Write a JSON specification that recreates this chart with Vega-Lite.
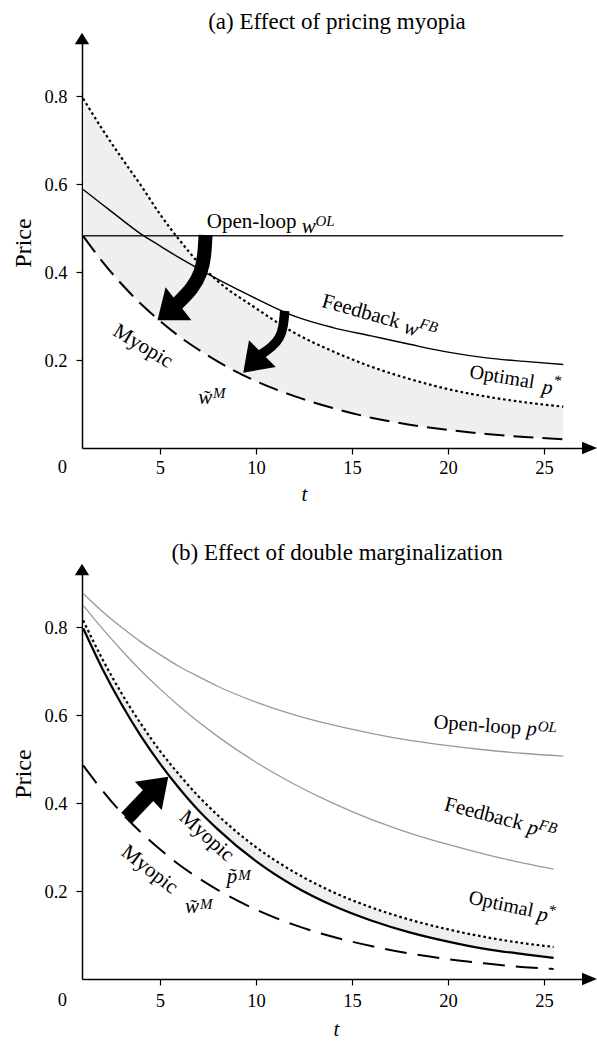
{
  "$schema": "https://vega.github.io/schema/vega-lite/v6.json",
  "background": "white",
  "padding": {"left": 11, "top": 10, "right": 0, "bottom": 0},
  "spacing": 37,
  "config": {
    "font": "Liberation Serif",
    "view": {"stroke": null},
    "axis": {
      "grid": false, "domainColor": "black", "domainWidth": 1.5, "tickColor": "black", "tickWidth": 1.2, "tickSize": 6,
      "labelColor": "black", "labelFont": "Liberation Serif", "labelFontSize": 18.5,
      "titleColor": "black", "titleFont": "Liberation Serif", "titleFontWeight": "normal"
    },
    "title": {"font": "Liberation Serif", "fontSize": 23, "fontWeight": "normal", "color": "black", "anchor": "middle", "baseline": "alphabetic", "offset": -1},
    "text": {"font": "Liberation Serif", "color": "black", "align": "left", "baseline": "alphabetic", "fontSize": 21}
  },
  "datasets": {
    "a_ol": [{"t": 1, "p": 0.483}, {"t": 26, "p": 0.483}],
    "a_fb": [
      {"t": 1, "p": 0.588}, {"t": 2, "p": 0.554}, {"t": 3, "p": 0.52}, {"t": 4, "p": 0.487}, {"t": 5, "p": 0.46},
      {"t": 6, "p": 0.433}, {"t": 7, "p": 0.408}, {"t": 8, "p": 0.384}, {"t": 10, "p": 0.34}, {"t": 12, "p": 0.3},
      {"t": 14, "p": 0.274}, {"t": 16, "p": 0.255}, {"t": 18, "p": 0.236}, {"t": 20, "p": 0.218}, {"t": 22, "p": 0.205},
      {"t": 24, "p": 0.197}, {"t": 26, "p": 0.19}
    ],
    "a_opt": [
      {"t": 1, "p": 0.795}, {"t": 2, "p": 0.725}, {"t": 3, "p": 0.66}, {"t": 4, "p": 0.598}, {"t": 5, "p": 0.532},
      {"t": 6, "p": 0.474}, {"t": 7, "p": 0.422}, {"t": 8, "p": 0.38}, {"t": 10, "p": 0.318}, {"t": 12, "p": 0.262},
      {"t": 14, "p": 0.22}, {"t": 16, "p": 0.185}, {"t": 18, "p": 0.157}, {"t": 20, "p": 0.134}, {"t": 22, "p": 0.117},
      {"t": 24, "p": 0.104}, {"t": 26, "p": 0.094}
    ],
    "a_my": [
      {"t": 1, "p": 0.482}, {"t": 2, "p": 0.424}, {"t": 3, "p": 0.373}, {"t": 4, "p": 0.328}, {"t": 5, "p": 0.289},
      {"t": 6, "p": 0.254}, {"t": 7, "p": 0.224}, {"t": 8, "p": 0.197}, {"t": 10, "p": 0.152}, {"t": 12, "p": 0.118},
      {"t": 14, "p": 0.091}, {"t": 16, "p": 0.069}, {"t": 18, "p": 0.053}, {"t": 20, "p": 0.041}, {"t": 22, "p": 0.032},
      {"t": 24, "p": 0.025}, {"t": 26, "p": 0.02}
    ],
    "a_band": [
      {"t": 1, "p": 0.795, "p2": 0.482}, {"t": 2, "p": 0.725, "p2": 0.424}, {"t": 3, "p": 0.66, "p2": 0.373},
      {"t": 4, "p": 0.598, "p2": 0.328}, {"t": 5, "p": 0.532, "p2": 0.289}, {"t": 6, "p": 0.474, "p2": 0.254},
      {"t": 7, "p": 0.422, "p2": 0.224}, {"t": 8, "p": 0.38, "p2": 0.197}, {"t": 10, "p": 0.318, "p2": 0.152},
      {"t": 12, "p": 0.262, "p2": 0.118}, {"t": 14, "p": 0.22, "p2": 0.091}, {"t": 16, "p": 0.185, "p2": 0.069},
      {"t": 18, "p": 0.157, "p2": 0.053}, {"t": 20, "p": 0.134, "p2": 0.041}, {"t": 22, "p": 0.117, "p2": 0.032},
      {"t": 24, "p": 0.104, "p2": 0.025}, {"t": 26, "p": 0.094, "p2": 0.02}
    ],
    "b_ol": [
      {"t": 1, "p": 0.877}, {"t": 2, "p": 0.836}, {"t": 3, "p": 0.8}, {"t": 4, "p": 0.767}, {"t": 5, "p": 0.738},
      {"t": 6, "p": 0.711}, {"t": 7, "p": 0.688}, {"t": 8, "p": 0.666}, {"t": 10, "p": 0.63}, {"t": 12, "p": 0.601},
      {"t": 14, "p": 0.578}, {"t": 16, "p": 0.559}, {"t": 18, "p": 0.543}, {"t": 20, "p": 0.531}, {"t": 22, "p": 0.521},
      {"t": 24, "p": 0.513}, {"t": 26, "p": 0.507}
    ],
    "b_fb": [
      {"t": 1, "p": 0.85}, {"t": 2, "p": 0.797}, {"t": 3, "p": 0.748}, {"t": 4, "p": 0.702}, {"t": 5, "p": 0.66},
      {"t": 6, "p": 0.621}, {"t": 7, "p": 0.585}, {"t": 8, "p": 0.552}, {"t": 10, "p": 0.493}, {"t": 12, "p": 0.443},
      {"t": 14, "p": 0.4}, {"t": 16, "p": 0.363}, {"t": 18, "p": 0.332}, {"t": 20, "p": 0.306}, {"t": 22, "p": 0.283},
      {"t": 24, "p": 0.263}, {"t": 25.5, "p": 0.25}
    ],
    "b_opt": [
      {"t": 1, "p": 0.816}, {"t": 2, "p": 0.728}, {"t": 3, "p": 0.65}, {"t": 4, "p": 0.581}, {"t": 5, "p": 0.519},
      {"t": 6, "p": 0.465}, {"t": 7, "p": 0.416}, {"t": 8, "p": 0.373}, {"t": 10, "p": 0.3}, {"t": 12, "p": 0.243},
      {"t": 14, "p": 0.198}, {"t": 16, "p": 0.163}, {"t": 18, "p": 0.135}, {"t": 20, "p": 0.113}, {"t": 22, "p": 0.095},
      {"t": 24, "p": 0.081}, {"t": 25.5, "p": 0.073}
    ],
    "b_myp": [
      {"t": 1, "p": 0.798}, {"t": 2, "p": 0.706}, {"t": 3, "p": 0.625}, {"t": 4, "p": 0.553}, {"t": 5, "p": 0.49},
      {"t": 6, "p": 0.434}, {"t": 7, "p": 0.384}, {"t": 8, "p": 0.341}, {"t": 10, "p": 0.268}, {"t": 12, "p": 0.211},
      {"t": 14, "p": 0.167}, {"t": 16, "p": 0.133}, {"t": 18, "p": 0.106}, {"t": 20, "p": 0.085}, {"t": 22, "p": 0.068},
      {"t": 24, "p": 0.056}, {"t": 25.5, "p": 0.048}
    ],
    "b_myw": [
      {"t": 1, "p": 0.486}, {"t": 2, "p": 0.429}, {"t": 3, "p": 0.378}, {"t": 4, "p": 0.334}, {"t": 5, "p": 0.295},
      {"t": 6, "p": 0.26}, {"t": 7, "p": 0.23}, {"t": 8, "p": 0.203}, {"t": 10, "p": 0.158}, {"t": 12, "p": 0.123},
      {"t": 14, "p": 0.096}, {"t": 16, "p": 0.075}, {"t": 18, "p": 0.058}, {"t": 20, "p": 0.045}, {"t": 22, "p": 0.035},
      {"t": 24, "p": 0.027}, {"t": 25.5, "p": 0.023}
    ],
    "b_band": [
      {"t": 1, "p": 0.816, "p2": 0.798}, {"t": 2, "p": 0.728, "p2": 0.706}, {"t": 3, "p": 0.65, "p2": 0.625},
      {"t": 4, "p": 0.581, "p2": 0.553}, {"t": 5, "p": 0.519, "p2": 0.49}, {"t": 6, "p": 0.465, "p2": 0.434},
      {"t": 7, "p": 0.416, "p2": 0.384}, {"t": 8, "p": 0.373, "p2": 0.341}, {"t": 10, "p": 0.3, "p2": 0.268},
      {"t": 12, "p": 0.243, "p2": 0.211}, {"t": 14, "p": 0.198, "p2": 0.167}, {"t": 16, "p": 0.163, "p2": 0.133},
      {"t": 18, "p": 0.135, "p2": 0.106}, {"t": 20, "p": 0.113, "p2": 0.085}, {"t": 22, "p": 0.095, "p2": 0.068},
      {"t": 24, "p": 0.081, "p2": 0.056}, {"t": 25.5, "p": 0.073, "p2": 0.048}
    ],
    "a_sh1": [{"i": 0, "t": 7.372, "p": 0.4846}, {"i": 1, "t": 7.32, "p": 0.4368}, {"i": 2, "t": 7.138, "p": 0.3981}, {"i": 3, "t": 6.721, "p": 0.364}, {"i": 4, "t": 5.836, "p": 0.3253}],
    "a_sh2": [{"i": 0, "t": 11.497, "p": 0.3117}, {"i": 1, "t": 11.435, "p": 0.2775}, {"i": 2, "t": 11.253, "p": 0.2502}, {"i": 3, "t": 10.836, "p": 0.2298}, {"i": 4, "t": 10.263, "p": 0.2127}],
    "b_sh": [{"i": 0, "t": 3.268, "p": 0.3663}, {"i": 1, "t": 4.482, "p": 0.422}],
    "a_hd1": [{"t": 5.419, "p": 0.3093}],
    "a_hd2": [{"t": 9.836, "p": 0.1929}],
    "b_hd": [{"t": 4.914, "p": 0.4384}],
    "ax_x": [{"t": 27.37, "p": 0}],
    "ax_y": [{"t": 0.94, "p": 0.9316}],
    "zero": [{"t": 0, "p": 0, "s": "0"}],
    "a_lab": [
      {"g": "ol_r", "t": 7.435, "p": 0.5012, "s": "Open-loop"},
      {"g": "i0", "t": 12.383, "p": 0.4884, "s": "w"},
      {"g": "s0", "t": 13.1, "p": 0.505, "s": "OL"},
      {"g": "fb_r", "t": 13.372, "p": 0.3215, "s": "Feedback"},
      {"g": "fb_i", "t": 17.643, "p": 0.2623, "s": "w"},
      {"g": "fb_s", "t": 18.471, "p": 0.2734, "s": "FB"},
      {"g": "op_r", "t": 21.081, "p": 0.1599, "s": "Optimal"},
      {"g": "op_i", "t": 24.857, "p": 0.1253, "s": "p"},
      {"g": "op_s", "t": 25.482, "p": 0.144, "s": "*"},
      {"g": "my_r", "t": 2.487, "p": 0.258, "s": "Myopic"},
      {"g": "i0", "t": 6.997, "p": 0.1001, "s": "w\u0303"},
      {"g": "s0", "t": 7.763, "p": 0.1137, "s": "M"}
    ],
    "b_lab": [
      {"g": "ol_r", "t": 19.237, "p": 0.5703, "s": "Open-loop"},
      {"g": "ol_i", "t": 24.065, "p": 0.5551, "s": "p"},
      {"g": "ol_s", "t": 24.664, "p": 0.5642, "s": "OL"},
      {"g": "fb_r", "t": 19.758, "p": 0.3845, "s": "Feedback"},
      {"g": "fb_i", "t": 24.07, "p": 0.3319, "s": "p"},
      {"g": "fb_s", "t": 24.69, "p": 0.3412, "s": "FB"},
      {"g": "op_r", "t": 21.029, "p": 0.1722, "s": "Optimal"},
      {"g": "op_i", "t": 24.602, "p": 0.1342, "s": "p"},
      {"g": "op_s", "t": 25.195, "p": 0.1474, "s": "*"},
      {"g": "my1", "t": 5.956, "p": 0.3647, "s": "Myopic"},
      {"g": "my2", "t": 2.919, "p": 0.2837, "s": "Myopic"},
      {"g": "i0", "t": 8.477, "p": 0.2184, "s": "p\u0303"},
      {"g": "s0", "t": 9.081, "p": 0.2252, "s": "M"},
      {"g": "i0", "t": 6.305, "p": 0.1501, "s": "w\u0303"},
      {"g": "s0", "t": 7.086, "p": 0.1592, "s": "M"}
    ]
  },
  "vconcat": [
    {
      "title": "(a) Effect of pricing myopia",
      "width": 510,
      "height": 411,
      "encoding": {
        "x": {"field": "t", "type": "quantitative", "scale": {"domain": [0.94, 27.5], "nice": false, "zero": false},
          "axis": {"values": [5, 10, 15, 20, 25], "labelPadding": 4, "labelFlush": false, "title": "t", "titleFontStyle": "italic", "titleFontSize": 21, "titleX": 222, "titleY": 52, "titleBaseline": "alphabetic", "titleAlign": "center"}},
        "y": {"field": "p", "type": "quantitative", "scale": {"domain": [0, 0.935], "nice": false, "zero": false},
          "axis": {"values": [0.2, 0.4, 0.6, 0.8], "labelPadding": 9, "title": "Price", "titleFontSize": 24, "titleX": -52, "titleBaseline": "alphabetic", "titleAlign": "center"}}
      },
      "layer": [
        {"data": {"name": "a_band"}, "mark": {"type": "area", "color": "#efefef", "interpolate": "monotone"}, "encoding": {"y2": {"field": "p2"}}},
        {"data": {"name": "a_ol"}, "mark": {"type": "line", "color": "#222222", "strokeWidth": 1.4}, "encoding": {}},
        {"data": {"name": "a_fb"}, "mark": {"type": "line", "color": "black", "strokeWidth": 1.4, "interpolate": "monotone"}, "encoding": {}},
        {"data": {"name": "a_opt"}, "mark": {"type": "line", "color": "black", "strokeWidth": 2.2, "strokeDash": [2.6, 2.8], "interpolate": "monotone"}, "encoding": {}},
        {"data": {"name": "a_my"}, "mark": {"type": "line", "color": "black", "strokeWidth": 2, "strokeDash": [20, 9], "interpolate": "monotone"}, "encoding": {}},
        {"data": {"name": "a_sh1"}, "mark": {"type": "line", "color": "black", "strokeWidth": 14, "strokeCap": "butt", "interpolate": "basis"}, "encoding": {"order": {"field": "i", "type": "quantitative"}}},
        {"data": {"name": "a_sh2"}, "mark": {"type": "line", "color": "black", "strokeWidth": 9.5, "strokeCap": "butt", "interpolate": "basis"}, "encoding": {"order": {"field": "i", "type": "quantitative"}}},
        {"data": {"name": "a_hd1"}, "mark": {"type": "point", "shape": "M0.639,0L-0.639,-1L-0.639,1Z", "size": 1747, "angle": 141.8, "filled": true, "color": "black", "opacity": 1, "strokeWidth": 0}},
        {"data": {"name": "a_hd2"}, "mark": {"type": "point", "shape": "M0.714,0L-0.714,-1L-0.714,1Z", "size": 1429, "angle": 135, "filled": true, "color": "black", "opacity": 1, "strokeWidth": 0}},
        {"data": {"name": "ax_x"}, "mark": {"type": "point", "shape": "M1.22,0L-1.22,-1L-1.22,1Z", "size": 151, "angle": 0, "filled": true, "color": "black", "opacity": 1, "strokeWidth": 0}},
        {"data": {"name": "ax_y"}, "mark": {"type": "point", "shape": "M0.81,0L-0.81,-1L-0.81,1Z", "size": 204, "angle": -90, "filled": true, "color": "black", "opacity": 1, "strokeWidth": 0}},
        {"data": {"name": "zero"}, "mark": {"type": "text", "align": "center", "baseline": "top", "dy": 10, "dx": -1.5, "fontSize": 18.5}, "encoding": {"text": {"field": "s"}}},
        {"data": {"name": "a_lab"}, "transform": [{"filter": "datum.g == 'ol_r'"}], "mark": {"type": "text"}, "encoding": {"text": {"field": "s"}}},
        {"data": {"name": "a_lab"}, "transform": [{"filter": "datum.g == 'i0'"}], "mark": {"type": "text", "fontStyle": "italic"}, "encoding": {"text": {"field": "s"}}},
        {"data": {"name": "a_lab"}, "transform": [{"filter": "datum.g == 's0'"}], "mark": {"type": "text", "fontStyle": "italic", "fontSize": 15}, "encoding": {"text": {"field": "s"}}},
        {"data": {"name": "a_lab"}, "transform": [{"filter": "datum.g == 'fb_r'"}], "mark": {"type": "text", "angle": 15.6}, "encoding": {"text": {"field": "s"}}},
        {"data": {"name": "a_lab"}, "transform": [{"filter": "datum.g == 'fb_i'"}], "mark": {"type": "text", "angle": 15.6, "fontStyle": "italic"}, "encoding": {"text": {"field": "s"}}},
        {"data": {"name": "a_lab"}, "transform": [{"filter": "datum.g == 'fb_s'"}], "mark": {"type": "text", "angle": 15.6, "fontStyle": "italic", "fontSize": 15}, "encoding": {"text": {"field": "s"}}},
        {"data": {"name": "a_lab"}, "transform": [{"filter": "datum.g == 'op_r'"}], "mark": {"type": "text", "angle": 9.5, "fontSize": 20}, "encoding": {"text": {"field": "s"}}},
        {"data": {"name": "a_lab"}, "transform": [{"filter": "datum.g == 'op_i'"}], "mark": {"type": "text", "angle": 9.5, "fontStyle": "italic"}, "encoding": {"text": {"field": "s"}}},
        {"data": {"name": "a_lab"}, "transform": [{"filter": "datum.g == 'op_s'"}], "mark": {"type": "text", "angle": 9.5, "fontSize": 15}, "encoding": {"text": {"field": "s"}}},
        {"data": {"name": "a_lab"}, "transform": [{"filter": "datum.g == 'my_r'"}], "mark": {"type": "text", "angle": 31}, "encoding": {"text": {"field": "s"}}}
      ]
    },
    {
      "title": "(b) Effect of double marginalization",
      "width": 510,
      "height": 411,
      "encoding": {
        "x": {"field": "t", "type": "quantitative", "scale": {"domain": [0.94, 27.5], "nice": false, "zero": false},
          "axis": {"values": [5, 10, 15, 20, 25], "labelPadding": 6, "labelFlush": false, "title": "t", "titleFontStyle": "italic", "titleFontSize": 21, "titleX": 254, "titleY": 56, "titleBaseline": "alphabetic", "titleAlign": "center"}},
        "y": {"field": "p", "type": "quantitative", "scale": {"domain": [0, 0.935], "nice": false, "zero": false},
          "axis": {"values": [0.2, 0.4, 0.6, 0.8], "labelPadding": 9, "title": "Price", "titleFontSize": 24, "titleX": -52, "titleBaseline": "alphabetic", "titleAlign": "center"}}
      },
      "layer": [
        {"data": {"name": "b_band"}, "mark": {"type": "area", "color": "#efefef", "interpolate": "monotone"}, "encoding": {"y2": {"field": "p2"}}},
        {"data": {"name": "b_ol"}, "mark": {"type": "line", "color": "#999999", "strokeWidth": 1.3, "interpolate": "monotone"}, "encoding": {}},
        {"data": {"name": "b_fb"}, "mark": {"type": "line", "color": "#999999", "strokeWidth": 1.3, "interpolate": "monotone"}, "encoding": {}},
        {"data": {"name": "b_opt"}, "mark": {"type": "line", "color": "black", "strokeWidth": 2.2, "strokeDash": [2.6, 2.8], "interpolate": "monotone"}, "encoding": {}},
        {"data": {"name": "b_myp"}, "mark": {"type": "line", "color": "black", "strokeWidth": 2.2, "interpolate": "monotone"}, "encoding": {}},
        {"data": {"name": "b_myw"}, "mark": {"type": "line", "color": "black", "strokeWidth": 2, "strokeDash": [22, 11], "interpolate": "monotone"}, "encoding": {}},
        {"data": {"name": "b_sh"}, "mark": {"type": "line", "color": "black", "strokeWidth": 15, "strokeCap": "butt"}, "encoding": {"order": {"field": "i", "type": "quantitative"}}},
        {"data": {"name": "b_hd"}, "mark": {"type": "point", "shape": "M0.712,0L-0.712,-1L-0.712,1Z", "size": 1513, "angle": -43.7, "filled": true, "color": "black", "opacity": 1, "strokeWidth": 0}},
        {"data": {"name": "ax_x"}, "mark": {"type": "point", "shape": "M1.22,0L-1.22,-1L-1.22,1Z", "size": 151, "angle": 0, "filled": true, "color": "black", "opacity": 1, "strokeWidth": 0}},
        {"data": {"name": "ax_y"}, "mark": {"type": "point", "shape": "M0.81,0L-0.81,-1L-0.81,1Z", "size": 204, "angle": -90, "filled": true, "color": "black", "opacity": 1, "strokeWidth": 0}},
        {"data": {"name": "zero"}, "mark": {"type": "text", "align": "center", "baseline": "top", "dy": 12, "dx": -1.5, "fontSize": 18.5}, "encoding": {"text": {"field": "s"}}},
        {"data": {"name": "b_lab"}, "transform": [{"filter": "datum.g == 'ol_r'"}], "mark": {"type": "text", "angle": 4, "fontSize": 20.5}, "encoding": {"text": {"field": "s"}}},
        {"data": {"name": "b_lab"}, "transform": [{"filter": "datum.g == 'ol_i'"}], "mark": {"type": "text", "angle": 4, "fontStyle": "italic"}, "encoding": {"text": {"field": "s"}}},
        {"data": {"name": "b_lab"}, "transform": [{"filter": "datum.g == 'ol_s'"}], "mark": {"type": "text", "angle": 4, "fontStyle": "italic", "fontSize": 15}, "encoding": {"text": {"field": "s"}}},
        {"data": {"name": "b_lab"}, "transform": [{"filter": "datum.g == 'fb_r'"}], "mark": {"type": "text", "angle": 14.3}, "encoding": {"text": {"field": "s"}}},
        {"data": {"name": "b_lab"}, "transform": [{"filter": "datum.g == 'fb_i'"}], "mark": {"type": "text", "angle": 14.3, "fontStyle": "italic"}, "encoding": {"text": {"field": "s"}}},
        {"data": {"name": "b_lab"}, "transform": [{"filter": "datum.g == 'fb_s'"}], "mark": {"type": "text", "angle": 14.3, "fontStyle": "italic", "fontSize": 15}, "encoding": {"text": {"field": "s"}}},
        {"data": {"name": "b_lab"}, "transform": [{"filter": "datum.g == 'op_r'"}], "mark": {"type": "text", "angle": 12, "fontSize": 20}, "encoding": {"text": {"field": "s"}}},
        {"data": {"name": "b_lab"}, "transform": [{"filter": "datum.g == 'op_i'"}], "mark": {"type": "text", "angle": 12, "fontStyle": "italic"}, "encoding": {"text": {"field": "s"}}},
        {"data": {"name": "b_lab"}, "transform": [{"filter": "datum.g == 'op_s'"}], "mark": {"type": "text", "angle": 12, "fontSize": 15}, "encoding": {"text": {"field": "s"}}},
        {"data": {"name": "b_lab"}, "transform": [{"filter": "datum.g == 'my1'"}], "mark": {"type": "text", "angle": 42}, "encoding": {"text": {"field": "s"}}},
        {"data": {"name": "b_lab"}, "transform": [{"filter": "datum.g == 'my2'"}], "mark": {"type": "text", "angle": 38}, "encoding": {"text": {"field": "s"}}},
        {"data": {"name": "b_lab"}, "transform": [{"filter": "datum.g == 'i0'"}], "mark": {"type": "text", "fontStyle": "italic"}, "encoding": {"text": {"field": "s"}}},
        {"data": {"name": "b_lab"}, "transform": [{"filter": "datum.g == 's0'"}], "mark": {"type": "text", "fontStyle": "italic", "fontSize": 15}, "encoding": {"text": {"field": "s"}}}
      ]
    }
  ]
}
